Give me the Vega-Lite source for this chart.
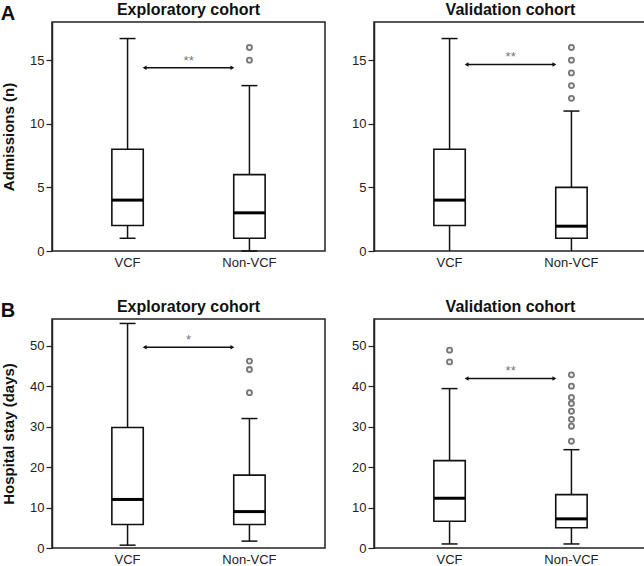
{
  "$schema": "https://vega.github.io/schema/vega-lite/v6.json",
  "padding": {"left": 0, "top": 1, "right": 0, "bottom": 0},
  "background": "white",
  "spacing": 28,
  "config": {
    "font": "Liberation Sans",
    "view": {"stroke": "#222", "strokeWidth": 1.5},
    "tick": {"opacity": 1},
    "axis": {"grid": false, "labelFont": "Liberation Sans", "labelFontSize": 13, "labelColor": "#222", "titleFont": "Liberation Sans", "titleFontSize": 15, "titleFontWeight": "bold", "titleColor": "#111", "domainColor": "#222", "tickColor": "#222", "domainWidth": 1.5, "tickWidth": 1.2},
    "title": {"font": "Liberation Sans", "fontSize": 16, "fontWeight": "bold", "color": "#111", "offset": 4},
    "concat": {"spacing": 24}
  },
  "datasets": {
    "summary": [
      {"panel": "A1", "group": "VCF", "low": 1, "q1": 2, "median": 4, "q3": 8, "high": 16.7},
      {"panel": "A1", "group": "Non-VCF", "low": 0, "q1": 1, "median": 3, "q3": 6, "high": 13},
      {"panel": "A2", "group": "VCF", "low": 0, "q1": 2, "median": 4, "q3": 8, "high": 16.7},
      {"panel": "A2", "group": "Non-VCF", "low": 0, "q1": 1, "median": 1.95, "q3": 5, "high": 11},
      {"panel": "B1", "group": "VCF", "low": 0.7, "q1": 5.8, "median": 12, "q3": 29.8, "high": 55.5},
      {"panel": "B1", "group": "Non-VCF", "low": 1.7, "q1": 5.8, "median": 9, "q3": 18, "high": 32},
      {"panel": "B2", "group": "VCF", "low": 1, "q1": 6.6, "median": 12.3, "q3": 21.6, "high": 39.4},
      {"panel": "B2", "group": "Non-VCF", "low": 1, "q1": 5, "median": 7.2, "q3": 13.2, "high": 24.3}
    ],
    "outliers": [
      {"panel": "A1", "group": "Non-VCF", "value": 15},
      {"panel": "A1", "group": "Non-VCF", "value": 16},
      {"panel": "A2", "group": "Non-VCF", "value": 12},
      {"panel": "A2", "group": "Non-VCF", "value": 13},
      {"panel": "A2", "group": "Non-VCF", "value": 14},
      {"panel": "A2", "group": "Non-VCF", "value": 15},
      {"panel": "A2", "group": "Non-VCF", "value": 16},
      {"panel": "B1", "group": "Non-VCF", "value": 38.4},
      {"panel": "B1", "group": "Non-VCF", "value": 44.1},
      {"panel": "B1", "group": "Non-VCF", "value": 46.2},
      {"panel": "B2", "group": "VCF", "value": 46.0},
      {"panel": "B2", "group": "VCF", "value": 48.9},
      {"panel": "B2", "group": "Non-VCF", "value": 26.4},
      {"panel": "B2", "group": "Non-VCF", "value": 30.1},
      {"panel": "B2", "group": "Non-VCF", "value": 31.8},
      {"panel": "B2", "group": "Non-VCF", "value": 33.8},
      {"panel": "B2", "group": "Non-VCF", "value": 35.7},
      {"panel": "B2", "group": "Non-VCF", "value": 37.2},
      {"panel": "B2", "group": "Non-VCF", "value": 40.0},
      {"panel": "B2", "group": "Non-VCF", "value": 42.8}
    ],
    "annot": [
      {"panel": "A1", "from": "VCF", "to": "Non-VCF", "y": 14.4, "label": "**"},
      {"panel": "A2", "from": "VCF", "to": "Non-VCF", "y": 14.66, "label": "**"},
      {"panel": "B1", "from": "VCF", "to": "Non-VCF", "y": 49.6, "label": "*"},
      {"panel": "B2", "from": "VCF", "to": "Non-VCF", "y": 41.9, "label": "**"}
    ]
  },
  "vconcat": [
    {
      "title": {"text": "A", "anchor": "start", "frame": "bounds", "fontSize": 20, "offset": -23},
      "spacing": 24,
      "hconcat": [
        {
          "width": 273, "height": 229,
          "title": "Exploratory cohort",
          "layer": [
            {"data": {"name": "summary"}, "transform": [{"filter": "datum.panel == 'A1'"}], "mark": {"type": "rule", "color": "#111", "strokeWidth": 1.5},
             "encoding": {"x": {"field": "group", "type": "nominal", "sort": ["VCF", "Non-VCF"], "scale": {"domain": ["VCF", "Non-VCF"], "paddingInner": 0.72, "paddingOuter": 0.48}, "axis": {"title": null, "labelAngle": 0, "ticks": false, "domain": false, "labelPadding": 5}},
                          "y": {"field": "low", "type": "quantitative", "scale": {"domain": [0, 18], "nice": false}, "axis": {"title": "Admissions (n)", "values": [0, 5, 10, 15], "tickSize": 6, "labelPadding": 2, "titlePadding": 13}},
                          "y2": {"field": "high"}}},
            {"data": {"name": "summary"}, "transform": [{"filter": "datum.panel == 'A1'"}], "mark": {"type": "tick", "color": "#111", "thickness": 1.5, "size": 16, "orient": "horizontal", "opacity": 1},
             "encoding": {"x": {"field": "group", "type": "nominal"}, "y": {"field": "low", "type": "quantitative"}}},
            {"data": {"name": "summary"}, "transform": [{"filter": "datum.panel == 'A1'"}], "mark": {"type": "tick", "color": "#111", "thickness": 1.5, "size": 16, "orient": "horizontal", "opacity": 1},
             "encoding": {"x": {"field": "group", "type": "nominal"}, "y": {"field": "high", "type": "quantitative"}}},
            {"data": {"name": "summary"}, "transform": [{"filter": "datum.panel == 'A1'"}], "mark": {"type": "bar", "fill": "white", "stroke": "#111", "strokeWidth": 1.6, "width": {"band": 0.92}},
             "encoding": {"x": {"field": "group", "type": "nominal"}, "y": {"field": "q1", "type": "quantitative"}, "y2": {"field": "q3"}}},
            {"data": {"name": "summary"}, "transform": [{"filter": "datum.panel == 'A1'"}], "mark": {"type": "tick", "color": "#000", "thickness": 3, "size": 31, "orient": "horizontal", "opacity": 1},
             "encoding": {"x": {"field": "group", "type": "nominal"}, "y": {"field": "median", "type": "quantitative"}}},
            {"data": {"name": "outliers"}, "transform": [{"filter": "datum.panel == 'A1'"}], "mark": {"type": "point", "shape": "circle", "size": 26, "filled": false, "stroke": "#777", "strokeWidth": 1.8, "fill": "#eee", "opacity": 1},
             "encoding": {"x": {"field": "group", "type": "nominal"}, "y": {"field": "value", "type": "quantitative"}}},
            {"data": {"name": "annot"}, "transform": [{"filter": "datum.panel == 'A1'"}], "mark": {"type": "rule", "color": "#111", "strokeWidth": 1.4},
             "encoding": {"x": {"field": "from", "type": "nominal", "bandPosition": 1}, "x2": {"field": "to", "bandPosition": 0}, "y": {"field": "y", "type": "quantitative"}}},
            {"data": {"name": "annot"}, "transform": [{"filter": "datum.panel == 'A1'"}], "mark": {"type": "point", "shape": "triangle-left", "filled": true, "color": "#111", "size": 20, "opacity": 1},
             "encoding": {"x": {"field": "from", "type": "nominal", "bandPosition": 1}, "y": {"field": "y", "type": "quantitative"}}},
            {"data": {"name": "annot"}, "transform": [{"filter": "datum.panel == 'A1'"}], "mark": {"type": "point", "shape": "triangle-right", "filled": true, "color": "#111", "size": 20, "opacity": 1},
             "encoding": {"x": {"field": "to", "type": "nominal", "bandPosition": 0}, "y": {"field": "y", "type": "quantitative"}}},
            {"data": {"name": "annot"}, "transform": [{"filter": "datum.panel == 'A1'"}], "mark": {"type": "text", "color": "#777", "fontSize": 13, "baseline": "bottom", "dy": 0},
             "encoding": {"x": {"field": "from", "type": "nominal", "bandPosition": 2.29}, "y": {"field": "y", "type": "quantitative"}, "text": {"field": "label"}}}
          ]
        },
        {
          "width": 273, "height": 229,
          "title": "Validation cohort",
          "layer": [
            {"data": {"name": "summary"}, "transform": [{"filter": "datum.panel == 'A2'"}], "mark": {"type": "rule", "color": "#111", "strokeWidth": 1.5},
             "encoding": {"x": {"field": "group", "type": "nominal", "sort": ["VCF", "Non-VCF"], "scale": {"domain": ["VCF", "Non-VCF"], "paddingInner": 0.72, "paddingOuter": 0.48}, "axis": {"title": null, "labelAngle": 0, "ticks": false, "domain": false, "labelPadding": 5}},
                          "y": {"field": "low", "type": "quantitative", "scale": {"domain": [0, 18], "nice": false}, "axis": {"title": null, "values": [0, 5, 10, 15], "tickSize": 6, "labelPadding": 2}},
                          "y2": {"field": "high"}}},
            {"data": {"name": "summary"}, "transform": [{"filter": "datum.panel == 'A2'"}], "mark": {"type": "tick", "color": "#111", "thickness": 1.5, "size": 16, "orient": "horizontal", "opacity": 1},
             "encoding": {"x": {"field": "group", "type": "nominal"}, "y": {"field": "high", "type": "quantitative"}}},
            {"data": {"name": "summary"}, "transform": [{"filter": "datum.panel == 'A2'"}], "mark": {"type": "bar", "fill": "white", "stroke": "#111", "strokeWidth": 1.6, "width": {"band": 0.92}},
             "encoding": {"x": {"field": "group", "type": "nominal"}, "y": {"field": "q1", "type": "quantitative"}, "y2": {"field": "q3"}}},
            {"data": {"name": "summary"}, "transform": [{"filter": "datum.panel == 'A2'"}], "mark": {"type": "tick", "color": "#000", "thickness": 3, "size": 31, "orient": "horizontal", "opacity": 1},
             "encoding": {"x": {"field": "group", "type": "nominal"}, "y": {"field": "median", "type": "quantitative"}}},
            {"data": {"name": "outliers"}, "transform": [{"filter": "datum.panel == 'A2'"}], "mark": {"type": "point", "shape": "circle", "size": 26, "filled": false, "stroke": "#777", "strokeWidth": 1.8, "fill": "#eee", "opacity": 1},
             "encoding": {"x": {"field": "group", "type": "nominal"}, "y": {"field": "value", "type": "quantitative"}}},
            {"data": {"name": "annot"}, "transform": [{"filter": "datum.panel == 'A2'"}], "mark": {"type": "rule", "color": "#111", "strokeWidth": 1.4},
             "encoding": {"x": {"field": "from", "type": "nominal", "bandPosition": 1}, "x2": {"field": "to", "bandPosition": 0}, "y": {"field": "y", "type": "quantitative"}}},
            {"data": {"name": "annot"}, "transform": [{"filter": "datum.panel == 'A2'"}], "mark": {"type": "point", "shape": "triangle-left", "filled": true, "color": "#111", "size": 20, "opacity": 1},
             "encoding": {"x": {"field": "from", "type": "nominal", "bandPosition": 1}, "y": {"field": "y", "type": "quantitative"}}},
            {"data": {"name": "annot"}, "transform": [{"filter": "datum.panel == 'A2'"}], "mark": {"type": "point", "shape": "triangle-right", "filled": true, "color": "#111", "size": 20, "opacity": 1},
             "encoding": {"x": {"field": "to", "type": "nominal", "bandPosition": 0}, "y": {"field": "y", "type": "quantitative"}}},
            {"data": {"name": "annot"}, "transform": [{"filter": "datum.panel == 'A2'"}], "mark": {"type": "text", "color": "#777", "fontSize": 13, "baseline": "bottom", "dy": 0},
             "encoding": {"x": {"field": "from", "type": "nominal", "bandPosition": 2.29}, "y": {"field": "y", "type": "quantitative"}, "text": {"field": "label"}}}
          ]
        }
      ]
    },
    {
      "title": {"text": "B", "anchor": "start", "frame": "bounds", "fontSize": 20, "offset": -23},
      "spacing": 24,
      "hconcat": [
        {
          "width": 273, "height": 229,
          "title": "Exploratory cohort",
          "layer": [
            {"data": {"name": "summary"}, "transform": [{"filter": "datum.panel == 'B1'"}], "mark": {"type": "rule", "color": "#111", "strokeWidth": 1.5},
             "encoding": {"x": {"field": "group", "type": "nominal", "sort": ["VCF", "Non-VCF"], "scale": {"domain": ["VCF", "Non-VCF"], "paddingInner": 0.72, "paddingOuter": 0.48}, "axis": {"title": null, "labelAngle": 0, "ticks": false, "domain": false, "labelPadding": 5}},
                          "y": {"field": "low", "type": "quantitative", "scale": {"domain": [0, 56.6], "nice": false}, "axis": {"title": "Hospital stay (days)", "values": [0, 10, 20, 30, 40, 50], "tickSize": 6, "labelPadding": 2, "titlePadding": 13}},
                          "y2": {"field": "high"}}},
            {"data": {"name": "summary"}, "transform": [{"filter": "datum.panel == 'B1'"}], "mark": {"type": "tick", "color": "#111", "thickness": 1.5, "size": 16, "orient": "horizontal", "opacity": 1},
             "encoding": {"x": {"field": "group", "type": "nominal"}, "y": {"field": "low", "type": "quantitative"}}},
            {"data": {"name": "summary"}, "transform": [{"filter": "datum.panel == 'B1'"}], "mark": {"type": "tick", "color": "#111", "thickness": 1.5, "size": 16, "orient": "horizontal", "opacity": 1},
             "encoding": {"x": {"field": "group", "type": "nominal"}, "y": {"field": "high", "type": "quantitative"}}},
            {"data": {"name": "summary"}, "transform": [{"filter": "datum.panel == 'B1'"}], "mark": {"type": "bar", "fill": "white", "stroke": "#111", "strokeWidth": 1.6, "width": {"band": 0.92}},
             "encoding": {"x": {"field": "group", "type": "nominal"}, "y": {"field": "q1", "type": "quantitative"}, "y2": {"field": "q3"}}},
            {"data": {"name": "summary"}, "transform": [{"filter": "datum.panel == 'B1'"}], "mark": {"type": "tick", "color": "#000", "thickness": 3, "size": 31, "orient": "horizontal", "opacity": 1},
             "encoding": {"x": {"field": "group", "type": "nominal"}, "y": {"field": "median", "type": "quantitative"}}},
            {"data": {"name": "outliers"}, "transform": [{"filter": "datum.panel == 'B1'"}], "mark": {"type": "point", "shape": "circle", "size": 26, "filled": false, "stroke": "#777", "strokeWidth": 1.8, "fill": "#eee", "opacity": 1},
             "encoding": {"x": {"field": "group", "type": "nominal"}, "y": {"field": "value", "type": "quantitative"}}},
            {"data": {"name": "annot"}, "transform": [{"filter": "datum.panel == 'B1'"}], "mark": {"type": "rule", "color": "#111", "strokeWidth": 1.4},
             "encoding": {"x": {"field": "from", "type": "nominal", "bandPosition": 1}, "x2": {"field": "to", "bandPosition": 0}, "y": {"field": "y", "type": "quantitative"}}},
            {"data": {"name": "annot"}, "transform": [{"filter": "datum.panel == 'B1'"}], "mark": {"type": "point", "shape": "triangle-left", "filled": true, "color": "#111", "size": 20, "opacity": 1},
             "encoding": {"x": {"field": "from", "type": "nominal", "bandPosition": 1}, "y": {"field": "y", "type": "quantitative"}}},
            {"data": {"name": "annot"}, "transform": [{"filter": "datum.panel == 'B1'"}], "mark": {"type": "point", "shape": "triangle-right", "filled": true, "color": "#111", "size": 20, "opacity": 1},
             "encoding": {"x": {"field": "to", "type": "nominal", "bandPosition": 0}, "y": {"field": "y", "type": "quantitative"}}},
            {"data": {"name": "annot"}, "transform": [{"filter": "datum.panel == 'B1'"}], "mark": {"type": "text", "color": "#777", "fontSize": 13, "baseline": "bottom", "dy": 0},
             "encoding": {"x": {"field": "from", "type": "nominal", "bandPosition": 2.29}, "y": {"field": "y", "type": "quantitative"}, "text": {"field": "label"}}}
          ]
        },
        {
          "width": 273, "height": 229,
          "title": "Validation cohort",
          "layer": [
            {"data": {"name": "summary"}, "transform": [{"filter": "datum.panel == 'B2'"}], "mark": {"type": "rule", "color": "#111", "strokeWidth": 1.5},
             "encoding": {"x": {"field": "group", "type": "nominal", "sort": ["VCF", "Non-VCF"], "scale": {"domain": ["VCF", "Non-VCF"], "paddingInner": 0.72, "paddingOuter": 0.48}, "axis": {"title": null, "labelAngle": 0, "ticks": false, "domain": false, "labelPadding": 5}},
                          "y": {"field": "low", "type": "quantitative", "scale": {"domain": [0, 56.6], "nice": false}, "axis": {"title": null, "values": [0, 10, 20, 30, 40, 50], "tickSize": 6, "labelPadding": 2}},
                          "y2": {"field": "high"}}},
            {"data": {"name": "summary"}, "transform": [{"filter": "datum.panel == 'B2'"}], "mark": {"type": "tick", "color": "#111", "thickness": 1.5, "size": 16, "orient": "horizontal", "opacity": 1},
             "encoding": {"x": {"field": "group", "type": "nominal"}, "y": {"field": "low", "type": "quantitative"}}},
            {"data": {"name": "summary"}, "transform": [{"filter": "datum.panel == 'B2'"}], "mark": {"type": "tick", "color": "#111", "thickness": 1.5, "size": 16, "orient": "horizontal", "opacity": 1},
             "encoding": {"x": {"field": "group", "type": "nominal"}, "y": {"field": "high", "type": "quantitative"}}},
            {"data": {"name": "summary"}, "transform": [{"filter": "datum.panel == 'B2'"}], "mark": {"type": "bar", "fill": "white", "stroke": "#111", "strokeWidth": 1.6, "width": {"band": 0.92}},
             "encoding": {"x": {"field": "group", "type": "nominal"}, "y": {"field": "q1", "type": "quantitative"}, "y2": {"field": "q3"}}},
            {"data": {"name": "summary"}, "transform": [{"filter": "datum.panel == 'B2'"}], "mark": {"type": "tick", "color": "#000", "thickness": 3, "size": 31, "orient": "horizontal", "opacity": 1},
             "encoding": {"x": {"field": "group", "type": "nominal"}, "y": {"field": "median", "type": "quantitative"}}},
            {"data": {"name": "outliers"}, "transform": [{"filter": "datum.panel == 'B2'"}], "mark": {"type": "point", "shape": "circle", "size": 26, "filled": false, "stroke": "#777", "strokeWidth": 1.8, "fill": "#eee", "opacity": 1},
             "encoding": {"x": {"field": "group", "type": "nominal"}, "y": {"field": "value", "type": "quantitative"}}},
            {"data": {"name": "annot"}, "transform": [{"filter": "datum.panel == 'B2'"}], "mark": {"type": "rule", "color": "#111", "strokeWidth": 1.4},
             "encoding": {"x": {"field": "from", "type": "nominal", "bandPosition": 1}, "x2": {"field": "to", "bandPosition": 0}, "y": {"field": "y", "type": "quantitative"}}},
            {"data": {"name": "annot"}, "transform": [{"filter": "datum.panel == 'B2'"}], "mark": {"type": "point", "shape": "triangle-left", "filled": true, "color": "#111", "size": 20, "opacity": 1},
             "encoding": {"x": {"field": "from", "type": "nominal", "bandPosition": 1}, "y": {"field": "y", "type": "quantitative"}}},
            {"data": {"name": "annot"}, "transform": [{"filter": "datum.panel == 'B2'"}], "mark": {"type": "point", "shape": "triangle-right", "filled": true, "color": "#111", "size": 20, "opacity": 1},
             "encoding": {"x": {"field": "to", "type": "nominal", "bandPosition": 0}, "y": {"field": "y", "type": "quantitative"}}},
            {"data": {"name": "annot"}, "transform": [{"filter": "datum.panel == 'B2'"}], "mark": {"type": "text", "color": "#777", "fontSize": 13, "baseline": "bottom", "dy": 0},
             "encoding": {"x": {"field": "from", "type": "nominal", "bandPosition": 2.29}, "y": {"field": "y", "type": "quantitative"}, "text": {"field": "label"}}}
          ]
        }
      ]
    }
  ]
}
